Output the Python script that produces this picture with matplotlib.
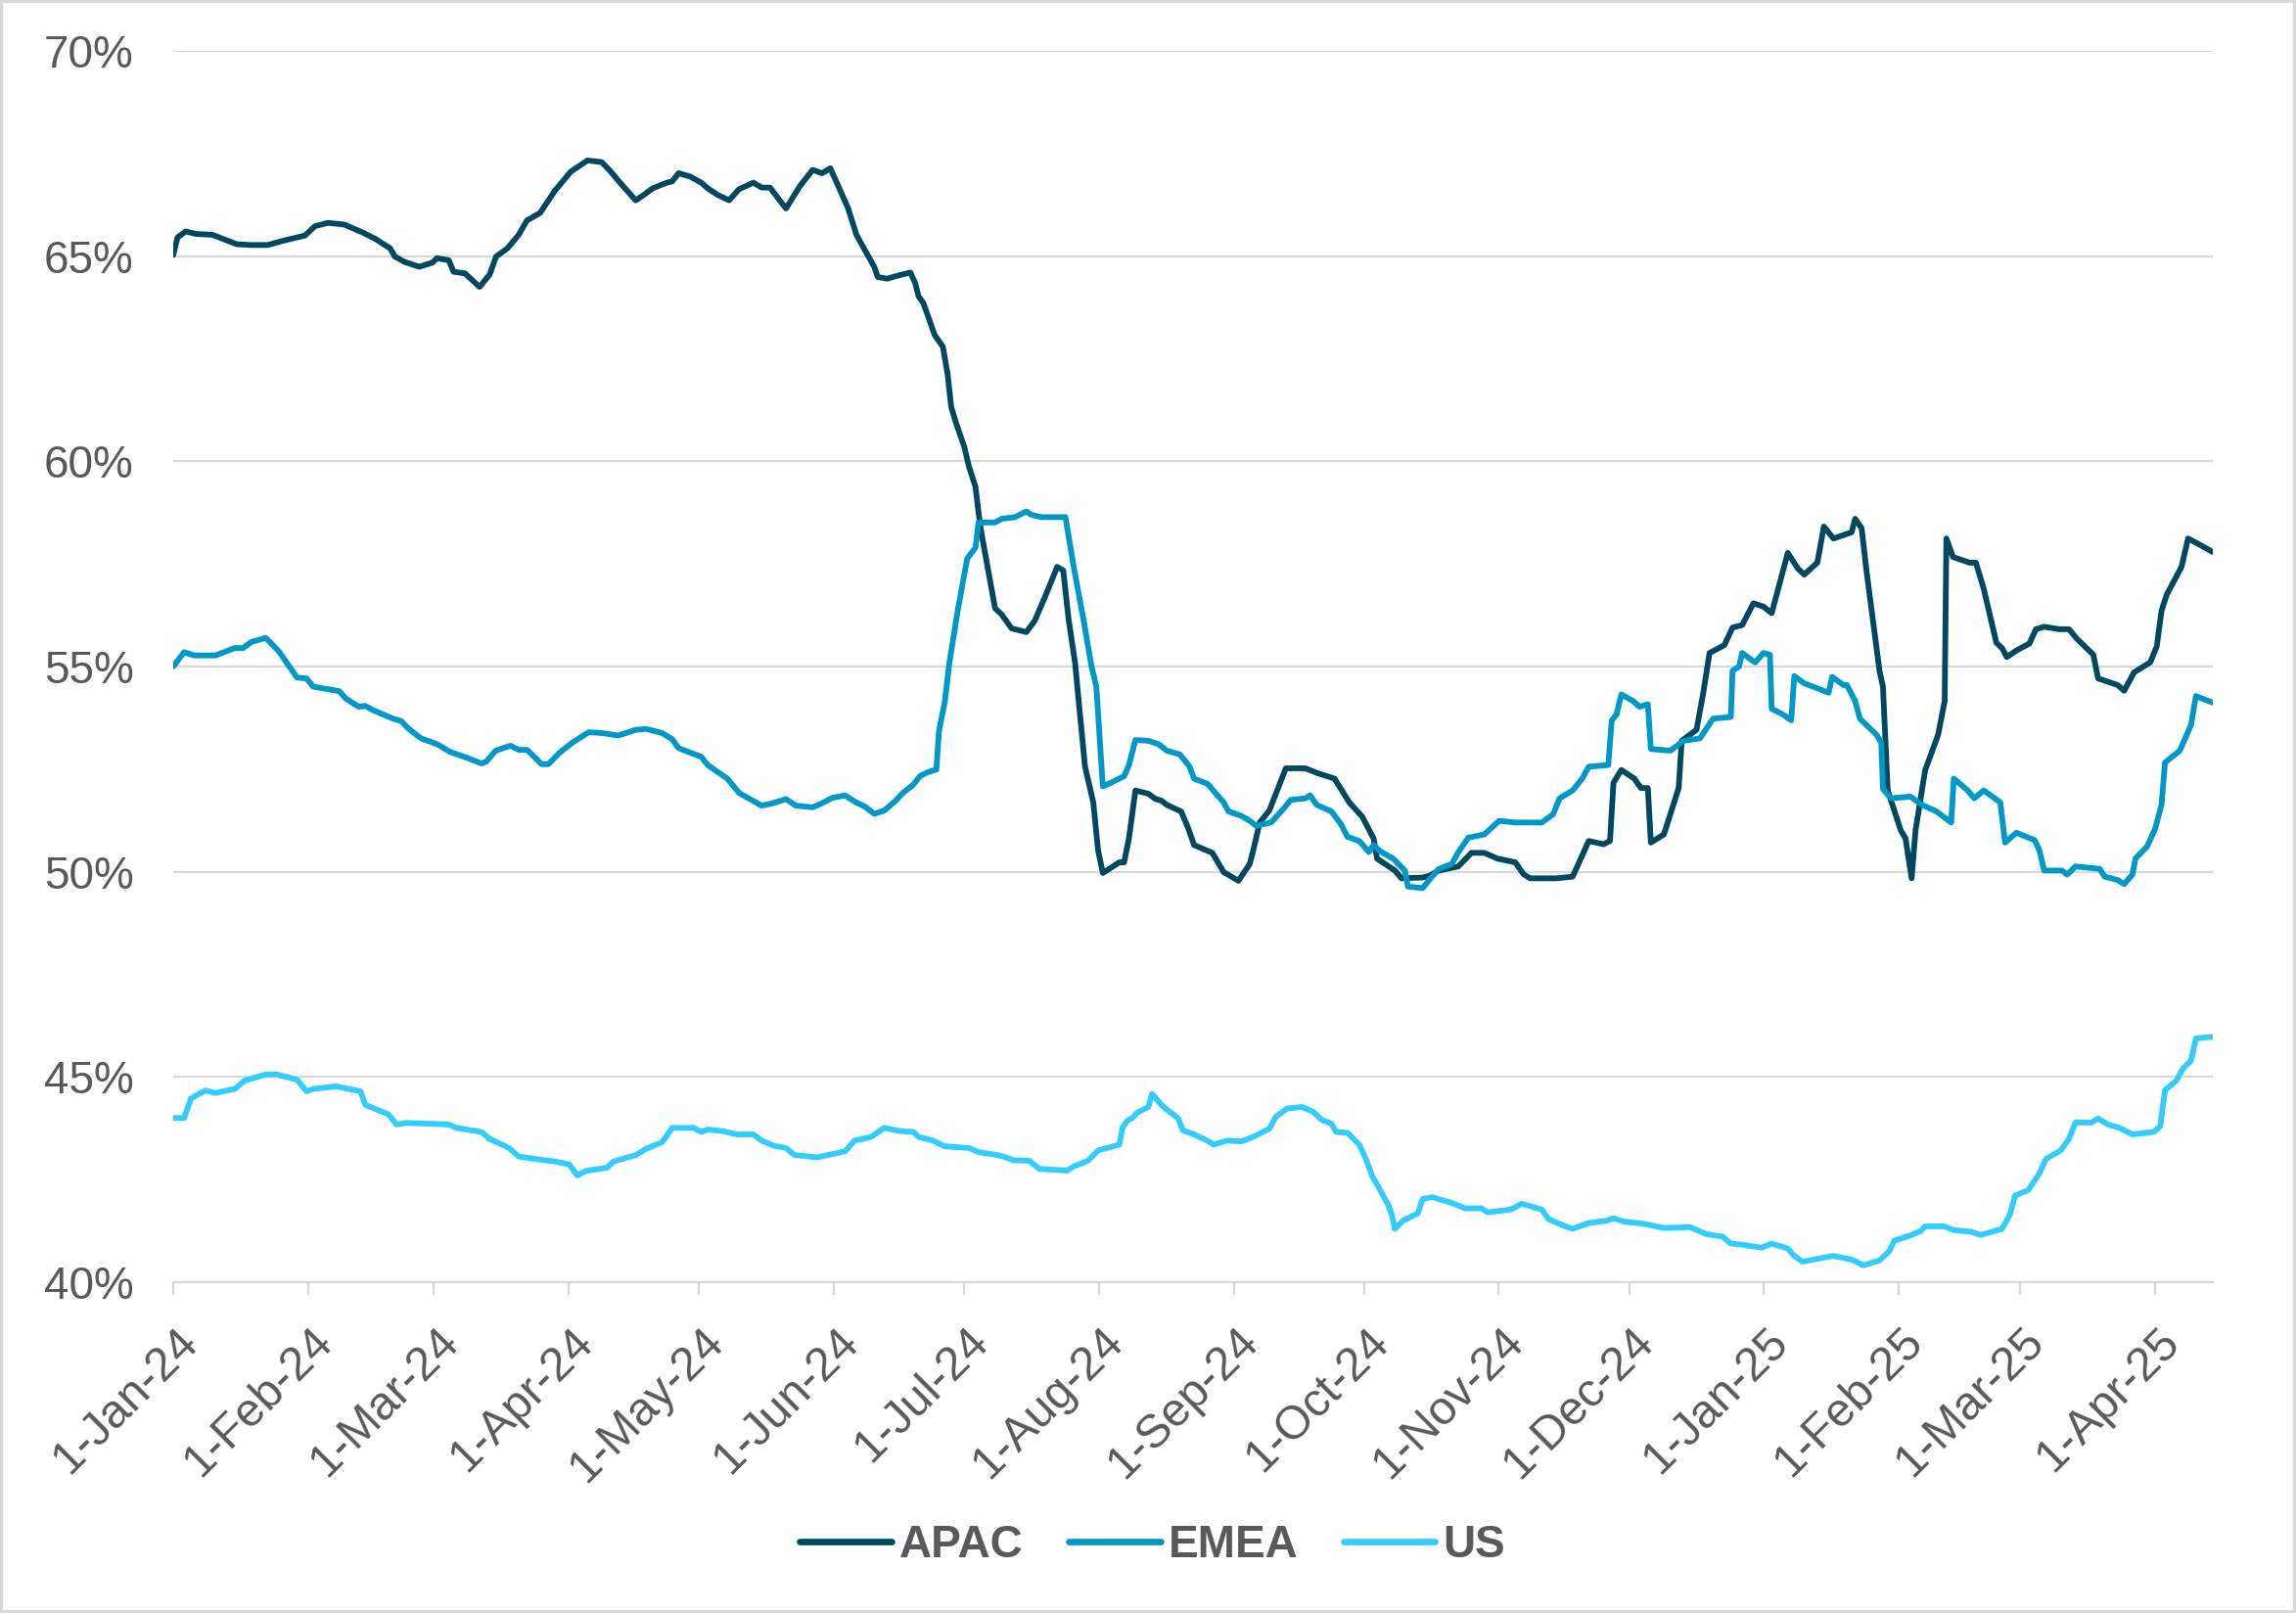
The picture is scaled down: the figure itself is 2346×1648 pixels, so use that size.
import matplotlib
matplotlib.use("Agg")
import matplotlib.pyplot as plt
import matplotlib.dates as mdates
from matplotlib.patches import Rectangle
from matplotlib.ticker import FuncFormatter, MultipleLocator
from matplotlib.transforms import ScaledTranslation
import pandas as pd

plt.rcParams["font.family"] = ["Liberation Sans", "DejaVu Sans"]

start = pd.Timestamp("2024-01-01")
end_day = 469.3

# Days since 1-Jan-24 and share values (%).
apac_day = [0, 1.0, 2.9, 5.2, 9.0, 14.6, 18, 21.7, 25.5, 30.3, 32.6, 35.6, 39.3, 43.5, 46.5, 49.9, 51, 53.2,
            56.6, 59.6, 60.7, 63.4, 64.5, 67.1, 70.5, 72.8, 74.3, 76.9, 79.5, 81.4, 84.4, 87.8, 91.5,
            95.3, 98.6, 100.5, 102.8, 106.4, 108.4, 110.3, 113.6, 114.8, 116.3, 118.9, 121.5, 123.0, 125.3,
            127.9, 130.2, 133.5, 135.4, 137.3, 141.0, 144.1, 147.1, 149.3, 151.2, 153.1, 155.3, 157.2, 158.7,
            161.3, 162.1, 164.3, 166.2, 168.8, 169.6, 170.7, 171.5, 172.6, 175.2, 177.1, 178.2, 179.0, 180.1,
            182.0, 183.1, 184.6, 185.7, 187.2, 189.1, 190.6,
            192.9, 196.3, 198.2, 200.4, 203.4, 204.8, 206.0, 207.5, 209.8, 211.7, 212.8, 213.9, 217.7, 218.8,
            219.9, 221.4, 224.4, 225.9, 227.4, 228.6, 231.9, 233.4, 234.9, 239.1, 241.7, 245.1, 247.7, 248.5,
            250.0, 252.2, 256.0, 260.5, 263.1, 267.2, 270.6, 273.6, 276.2, 277.0, 281.1, 282.6, 287.5,
            289.0, 291.2, 295.7, 298.7, 301.7, 304.7, 308.8, 310.7, 312.2, 318.2, 322.0, 325.7, 329.1, 330.6,
            331.4, 333.2, 336.2, 337.7, 339.3, 340.0, 343.0, 346.4, 347.1, 350.5, 352.0, 353.5, 356.9, 358.8,
            361.0, 363.6, 365.9, 367.8, 371.5, 373.8, 375.3, 378.3, 379.8, 382.0,
            386.2, 387.0, 388.5, 389.6, 392.6, 393.4, 394.5, 397.5, 398.6, 400.0, 400.9, 403.1, 406.1, 407.6,
            408.0, 409.5, 413.3, 414.8, 416.6, 419.5, 420.8, 421.9, 424.1, 427.1, 428.6, 430.5, 433.9, 436.2,
            438.0, 441.8, 442.9, 447.4, 448.9, 451.2, 454.9, 456.4, 457.5, 458.7, 462.1, 463.6, 465.4, 469.3]
apac_val = [65.03, 65.46, 65.6, 65.54, 65.52, 65.29, 65.27, 65.27, 65.38, 65.5, 65.73, 65.81, 65.77, 65.58,
            65.42, 65.19, 64.99, 64.86, 64.74, 64.84, 64.95, 64.9, 64.62, 64.58, 64.25, 64.55, 64.99, 65.19,
            65.52, 65.87, 66.05, 66.59, 67.06,
            67.33, 67.29, 67.08, 66.79, 66.36, 66.5, 66.65, 66.79, 66.82, 67.02, 66.94, 66.79, 66.65, 66.49,
            66.36, 66.63, 66.79, 66.67, 66.67, 66.16, 66.69, 67.1, 67.02, 67.14, 66.69, 66.16, 65.52, 65.23,
            64.74, 64.49, 64.45, 64.51, 64.58, 64.6, 64.35, 64.02, 63.86, 63.08, 62.79, 62.11, 61.33, 60.94,
            60.36, 59.87, 59.38, 58.41, 57.53, 56.42, 56.27,
            55.93, 55.84, 56.11, 56.65, 57.43, 57.34, 56.17, 55.1, 52.56, 51.69, 50.52, 49.97, 50.23, 50.23,
            50.81, 51.98, 51.9, 51.78, 51.73, 51.63, 51.47, 51.1, 50.65, 50.46, 49.99, 49.78, 50.19, 50.52,
            51.2, 51.49, 52.52, 52.52, 52.41, 52.27, 51.69, 51.34, 50.81, 50.32, 50.03, 49.84, 49.86,
            49.9, 50.03, 50.13, 50.46, 50.46, 50.32, 50.23, 49.94, 49.84, 49.84, 49.88, 50.75, 50.67, 50.75,
            52.17, 52.48, 52.27, 52.04, 52.04, 50.71, 50.91, 52.04, 53.19, 53.46, 54.32, 55.33, 55.52, 55.95,
            56.01, 56.54, 56.46, 56.3, 57.77, 57.39, 57.24, 57.53, 58.41, 58.12,
            58.27, 58.6, 58.37, 57.34, 54.9, 54.51, 51.98, 51.01, 50.81, 49.84, 51.01, 52.47, 53.34, 54.16,
            58.12, 57.67, 57.53, 57.53, 56.89, 55.58, 55.45, 55.23, 55.39, 55.56, 55.91, 55.97, 55.91, 55.91,
            55.68, 55.29, 54.71, 54.55, 54.41, 54.86, 55.1, 55.49, 56.36, 56.75, 57.43, 58.12, 58.02, 57.79]

emea_day = [0, 2.5, 4.8, 9.7, 14.2, 16.1, 18.0, 21.3, 24.3, 28.5, 30.7, 32.2, 38.2, 39.7, 42.7, 44.2, 46.1,
            50.6, 52.5, 54.0, 57.0, 60.7, 63.7, 67.5, 70.9, 72.0, 74.2, 77.6, 79.5, 81.4, 84.8, 86.3, 88.9, 91.9,
            95.6, 98.6, 102.4, 106.5, 108.8, 112.5, 114.8, 116.3, 121.5, 123.0, 127.5, 130.2, 135.4, 138.0,
            141.0, 143.3, 147.1, 149.3, 151.6, 154.6, 156.8, 159.1, 161.3, 163.6, 166.2, 168.1, 170.3, 171.8,
            173.7, 175.6, 176.2, 177.5, 178.6, 180.5, 182.7, 184.6, 185.3, 189.1, 190.6,
            193.7, 196.3, 197.4, 199.7, 205.3, 207.2, 209.4, 211.3, 212.4, 213.9, 215.8, 217.7, 218.8, 219.9,
            221.4, 224.4, 226.7, 228.6, 231.6, 233.8, 234.9, 238.0, 241.7, 242.8, 245.8, 247.7, 249.2, 252.6,
            255.6, 257.1, 260.5, 261.6, 263.1, 266.5, 268.7, 270.2, 272.9, 275.1, 276.2, 277.7, 280.7, 283.4,
            284.1, 287.5,
            289.0, 291.2, 294.2, 295.7, 298.0, 301.7, 305.1, 308.8, 314.9, 317.5, 319.0, 322.0, 324.2, 325.7,
            330.2, 331.0, 332.1, 333.2, 335.9, 337.4, 339.3, 340.0, 344.5, 347.5, 351.3, 354.3, 358.4, 358.8,
            360.3, 361.0, 364.0, 365.9, 367.4, 367.8, 370.4, 372.3, 373.0, 375.3, 378.3, 380.9, 381.7, 384.3,
            385.1, 387.0, 388.1, 391.9, 393.0, 393.4, 395.2, 399.7, 402.4, 405.7, 409.1, 409.7, 412.9, 414.4,
            416.6, 420.4, 421.5, 424.1, 428.3, 429.4, 430.5, 434.6, 435.8, 437.7, 443.3, 444.4, 447.4, 448.9,
            450.8, 451.5, 454.2, 456.0, 457.5, 458.3, 461.7, 464.3, 465.4, 469.3]
emea_val = [55.0, 55.35, 55.27, 55.27, 55.45, 55.45, 55.6, 55.7, 55.37, 54.73, 54.71, 54.51, 54.4, 54.22,
            54.02, 54.04, 53.93, 53.73, 53.67, 53.5, 53.25, 53.11, 52.92, 52.78, 52.64, 52.68, 52.95, 53.07,
            52.97, 52.97, 52.62, 52.62, 52.9, 53.15,
            53.4, 53.38, 53.32, 53.46, 53.48, 53.38, 53.23, 53.01, 52.8, 52.6, 52.27, 51.92, 51.61, 51.67,
            51.77, 51.61, 51.57, 51.67, 51.8, 51.86, 51.71, 51.59, 51.41, 51.49, 51.73, 51.94, 52.12, 52.33,
            52.43, 52.49, 53.44, 54.12, 55.1, 56.36, 57.63, 57.9, 58.51, 58.51, 58.6,
            58.64, 58.78, 58.7, 58.64, 58.64, 57.43, 56.17, 55.0, 54.51, 52.08, 52.17, 52.27, 52.33, 52.6,
            53.21, 53.19, 53.11, 52.95, 52.86, 52.57, 52.27, 52.14, 51.69, 51.47, 51.36, 51.24, 51.12, 51.2,
            51.55, 51.75, 51.79, 51.86, 51.63, 51.47, 51.16, 50.85, 50.75, 50.48, 50.65, 50.5, 50.32, 50.03,
            49.64, 49.6,
            49.8, 50.07, 50.19, 50.48, 50.83, 50.91, 51.24, 51.2, 51.2, 51.4, 51.79, 51.98, 52.27, 52.56,
            52.6, 53.69, 53.83, 54.32, 54.16, 54.02, 54.08, 52.99, 52.95, 53.19, 53.25, 53.73, 53.77, 54.9,
            55.0, 55.33, 55.1, 55.33, 55.29, 53.97, 53.83, 53.69, 54.77, 54.59, 54.47, 54.36, 54.75, 54.55,
            54.55, 54.16, 53.73, 53.34, 53.15, 52.02, 51.79, 51.83, 51.63, 51.47, 51.2, 52.27, 51.98, 51.79,
            51.98, 51.69, 50.71, 50.95, 50.77, 50.52, 50.03, 50.03, 49.93, 50.13, 50.07, 49.88, 49.8, 49.7,
            49.93, 50.32, 50.62, 51.04, 51.63, 52.66, 52.95, 53.58, 54.28, 54.12]

us_day = [0, 2.5, 4.1, 7.4, 9.7, 14.2, 16.4, 21.3, 23.9, 28.5, 30.7, 32.2, 37.5, 43.1, 44.2, 49.5, 51.4,
          53.6, 59.2, 63.4, 65.2, 70.9, 72.8, 77.3, 79.5, 85.5, 87.4, 91.1, 93.0,
          94.9, 99.8, 101.3, 106.5, 108.8, 112.5, 114.8, 119.7, 121.5, 123.0, 126.4, 129.8, 133.5, 135.4,
          138.0, 141.0, 142.9, 148.2, 151.6, 154.6, 156.8, 160.6, 163.6, 167.3, 170.3, 171.5, 174.8, 177.5,
          183.1, 185.3, 189.5,
          191.4, 193.3, 197.0, 199.3, 205.7, 207.2, 210.5, 212.8, 217.7, 218.4, 219.6, 220.7, 221.8, 224.4,
          225.2, 227.4, 228.9, 231.2, 232.3, 234.9, 237.9, 239.4, 242.5, 245.8, 248.5, 252.2, 253.7, 256.3,
          259.7, 262.3, 264.2, 266.5, 267.6, 270.2, 272.9, 274.4, 275.9, 277.0, 279.6, 280.4, 281.1, 283.0,
          286.4, 287.5,
          289.7, 294.2, 297.2, 301.0, 302.5, 307.7, 310.3, 314.9, 316.4, 319.4, 322.0, 325.7, 330.0, 331.4,
          333.6, 338.5, 343.0, 349.0, 352.8, 356.5, 358.4, 360.6, 365.5, 367.8, 371.5, 373.0, 374.9, 379.0,
          382.0,
          386.2, 388.9, 392.6, 394.9, 396.0, 399.4, 402.0, 403.1, 407.6, 409.5, 413.6, 415.9, 420.8, 422.6,
          423.8, 426.8, 429.4, 430.9, 434.3, 436.2, 437.7, 441.4, 442.9, 445.2, 447.8, 450.8, 455.7, 457.2,
          458.3, 460.9, 462.4, 464.3, 465.4, 469.3]
us_val = [44.0, 44.0, 44.48, 44.67, 44.61, 44.71, 44.91, 45.06, 45.06, 44.93, 44.65, 44.71, 44.77, 44.65,
          44.32, 44.09, 43.84, 43.88, 43.86, 43.84, 43.76, 43.66, 43.49, 43.27, 43.06, 42.97, 42.95, 42.87, 42.6,
          42.71, 42.79, 42.94, 43.1, 43.25, 43.41, 43.76, 43.76, 43.66, 43.72, 43.68, 43.6, 43.6, 43.45,
          43.33, 43.27, 43.1, 43.04, 43.12, 43.19, 43.45, 43.54, 43.76, 43.68, 43.66, 43.54, 43.45, 43.31,
          43.27, 43.17, 43.1,
          43.05, 42.97, 42.96, 42.76, 42.72, 42.82, 42.96, 43.21, 43.35, 43.76, 43.94, 44.0, 44.13, 44.27,
          44.59, 44.32, 44.18, 44.0, 43.7, 43.6, 43.45, 43.35, 43.45, 43.43, 43.54, 43.74, 44.03, 44.23,
          44.27, 44.15, 43.96, 43.86, 43.66, 43.64, 43.35, 43.01, 42.58, 42.38, 41.88, 41.64, 41.3, 41.5,
          41.68, 42.03,
          42.07, 41.93, 41.8, 41.8, 41.7, 41.77, 41.91, 41.77, 41.54, 41.4, 41.3, 41.44, 41.5, 41.56,
          41.48, 41.42, 41.32, 41.34, 41.17, 41.11, 40.94, 40.92, 40.84, 40.94, 40.82, 40.64, 40.5, 40.58,
          40.64,
          40.55, 40.41, 40.53, 40.76, 41.01, 41.13, 41.24, 41.36, 41.36, 41.27, 41.23, 41.15, 41.3, 41.64,
          42.11, 42.24, 42.65, 43.0, 43.21, 43.49, 43.89, 43.89, 43.99, 43.84, 43.76, 43.6, 43.66, 43.8,
          44.68, 44.91, 45.2, 45.4, 45.94, 45.98]

series = ["APAC", "EMEA", "US"]
colors = ["#00485F", "#0098C7", "#33CCFF"]
grey = "#595959"
light = "#D9D9D9"


def to_dates(days):
    return start + pd.to_timedelta(days, unit="D")


W, H = 2346, 1648
fig = plt.figure(figsize=(W / 100, H / 100), dpi=100)
ax = fig.add_axes([177 / W, 1 - 1310 / H, (2261 - 177) / W, (1310 - 52) / H])

for name, days, vals, c in zip(series, [apac_day, emea_day, us_day], [apac_val, emea_val, us_val], colors):
    ax.plot(to_dates(days), vals, color=c, lw=4.2, label=name,
            solid_joinstyle="round", solid_capstyle="round")

ax.set_xlim(start, start + pd.Timedelta(days=end_day))
ax.set_ylim(40, 70)
ax.yaxis.set_major_locator(MultipleLocator(5))
ax.yaxis.set_major_formatter(FuncFormatter(lambda v, p: f"{v:.0f}%"))
ax.xaxis.set_major_locator(mdates.MonthLocator())
ax.xaxis.set_major_formatter(FuncFormatter(
    lambda v, p: f"{mdates.num2date(v).day}-{mdates.num2date(v):%b-%y}"))

ax.grid(axis="y", color=light, lw=1.6)
ax.set_axisbelow(True)
for s in ["top", "right", "left"]:
    ax.spines[s].set_visible(False)
ax.spines["bottom"].set_color(light)
ax.spines["bottom"].set_linewidth(1.6)

ax.tick_params(axis="y", length=0, pad=29, labelsize=33, labelcolor=grey)
ax.tick_params(axis="x", length=9.5, width=1.6, color=light, pad=18, labelsize=34.5, labelcolor=grey)
shift = ScaledTranslation(2 / 100, 0, fig.dpi_scale_trans)
for lab in ax.get_xticklabels():
    lab.set_rotation(45)
    lab.set_ha("right")
    lab.set_va("top")
    lab.set_rotation_mode("anchor")
    lab.set_transform(lab.get_transform() + shift)

leg = fig.legend(loc="center", bbox_to_anchor=(0.502, 1 - 1579 / H), ncol=3, frameon=False,
                 handlelength=2.05, handletextpad=0.18, columnspacing=1.0,
                 prop={"size": 33, "weight": "bold"})
for t in leg.get_texts():
    t.set_color(grey)
for h in leg.get_lines():
    h.set_linewidth(4.8)

# light frame round the whole chart
fig.patches.append(Rectangle((0, 0), 1, 1, transform=fig.transFigure, fill=False,
                             edgecolor=light, lw=4.5))

fig.savefig("out.png", dpi=100)
